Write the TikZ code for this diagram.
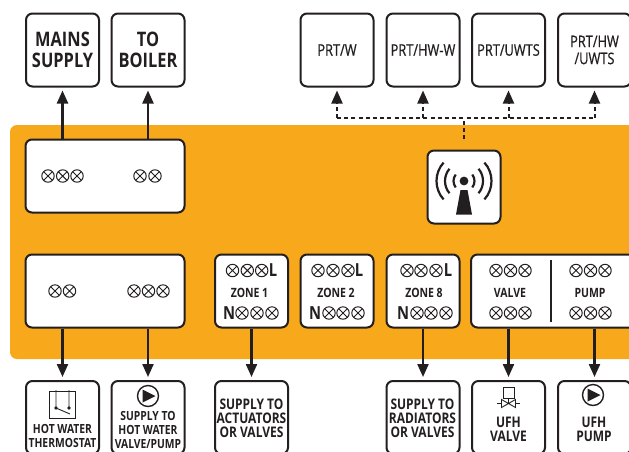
\documentclass[tikz,border=0pt]{standalone}
\usepackage{fontspec}
\setmainfont{Open Sans}[FakeStretch=0.82]
\newfontfamily\prtfont{Open Sans}[FakeStretch=0.8,FakeBold=0.6]
\usetikzlibrary{arrows.meta}
\definecolor{ink}{HTML}{231F20}
\definecolor{amber}{HTML}{F7A81B}
\tikzset{
  x=1pt,y=-1pt,
  boxn/.style={draw=ink,line width=2pt,fill=white,rounded corners=6.5pt,minimum width=73pt,minimum height=73pt,inner sep=0pt,align=center,text=ink},
  wide/.style={boxn,minimum width=159pt},
  lab/.style={text=ink,inner sep=0pt,align=center,font=\bfseries\fontsize{12.6}{14}\selectfont},
  labb/.style={text=ink,inner sep=0pt,align=center,font=\bfseries\fontsize{14.6}{14.2}\selectfont},
  big/.style={font=\bfseries\fontsize{20}{21}\selectfont},
  prt/.style={font=\prtfont\fontsize{16}{17}\selectfont},
  zl/.style={text=ink,inner sep=0pt,font=\bfseries\fontsize{12.8}{13}\selectfont},
  ln/.style={text=ink,inner sep=0pt,font=\bfseries\fontsize{18}{18}\selectfont},
  link/.style={draw=ink,line width=2.2pt,-{Triangle[width=11pt,length=13pt]},shorten >=3pt},
  dlink/.style={draw=ink,line width=2pt,dash pattern=on 4pt off 3.2pt},
  darrow/.style={dlink,-{Triangle[width=11pt,length=13pt]},shorten >=3pt},
  sym/.style={draw=ink,line width=1pt},
}
\newcommand{\xc}[2]{\draw[sym] (#1,#2) circle (6.2) ({#1-4.4},{#2-4.4}) -- ({#1+4.4},{#2+4.4}) ({#1-4.4},{#2+4.4}) -- ({#1+4.4},{#2-4.4});}
\newcommand{\pumpicon}[2]{\draw[draw=ink,line width=1.4pt] (#1,#2) circle (10.5);\fill[ink] ({#1-5.5},{#2-6.5}) -- ({#1+7.5},#2) -- ({#1-5.5},{#2+6.5}) -- cycle;}
\begin{document}
\begin{tikzpicture}
\useasboundingbox (0,0) rectangle (629,451);
\clip (0,0) rectangle (629,451);
\fill[white] (0,0) rectangle (629,451);
\fill[amber,rounded corners=7pt] (10,125) rectangle (660,359);

% upper row
\node[boxn,big] (mains) at (62.5,50) {MAINS\\SUPPLY};
\node[boxn,big] (boiler) at (148,50) {TO\\BOILER};
\node[boxn,prt] (prtw) at (337,50) {PRT/W};
\node[boxn,prt] (prthw) at (423,50) {PRT/HW-W};
\node[boxn,prt] (prtu) at (508.5,50) {PRT/UWTS};
\node[boxn,prt] (prthu) at (594.5,50) {PRT/HW\\/UWTS};

% control boxes
\node[wide] (upper) at (105,176) {};
\node[boxn] (wifi) at (464,187) {};
\node[wide] (lower) at (105,291) {};
\node[boxn] (z1) at (251.5,291) {};
\node[boxn] (z2) at (337,291) {};
\node[boxn] (z8) at (423,291) {};
\node[boxn,minimum width=170pt] (vp) at (556,291) {};

% bottom row
\node[boxn] (hw) at (62.5,417.5) {};
\node[boxn] (hv) at (148,417.5) {};
\node[boxn] (act) at (251.5,417.5) {};
\node[boxn] (rad) at (423,417.5) {};
\node[boxn] (ufv) at (508.5,417.5) {};
\node[boxn] (ufp) at (594.5,417.5) {};

% connectors
\draw[link] (mains.south |- upper.north) -- (mains.south);
\draw[link] (boiler.south |- upper.north) -- (boiler.south);
\draw[link] (lower.south -| hw.north) -- (hw.north);
\draw[link] (lower.south -| hv.north) -- (hv.north);
\draw[link] (z1.south) -- (act.north);
\draw[link] (z8.south) -- (rad.north);
\draw[link] (vp.south -| ufv.north) -- (ufv.north);
\draw[link] (vp.south -| ufp.north) -- (ufp.north);

\coordinate (hub) at (464,118);
\coordinate (stub) at (464,139);
\coordinate (ja) at (prtw.south |- hub);
\coordinate (jb) at (prthw.south |- hub);
\coordinate (jc) at (prtu.south |- hub);
\coordinate (jd) at (prthu.south |- hub);
\draw[dlink] (stub) -- (hub);
\draw[dlink] (ja) -- (jd);
\draw[darrow] (ja) -- (prtw.south);
\draw[darrow] (jb) -- (prthw.south);
\draw[darrow] (jc) -- (prtu.south);
\draw[darrow] (jd) -- (prthu.south);

% wireless icon
\fill[ink] (464,181) circle (4.4);
\fill[ink] (460.5,190) -- (467.5,190) -- (472,214.5) -- (456,214.5) -- cycle;
\foreach \r/\a in {10.5/38,19/40,27.5/42}{
  \draw[ink,line width=2.2pt] (464,181) ++(180-\a:\r) arc[start angle=180-\a,end angle=180+\a,radius=\r];
  \draw[ink,line width=2.2pt] (464,181) ++(\a:\r) arc[start angle=\a,end angle=-\a,radius=\r];
}

% terminals
\foreach \x in {48,62.7,77,140,155}{\xc{\x}{176}}
\foreach \x in {55,69.5,134,148.5,163}{\xc{\x}{291}}
\foreach \x in {232.5,247.3,261.7,318,333,348,407,421,436,496,510.5,525,576,590.5,605}{\xc{\x}{270.5}}
\foreach \x in {242,257,272,329,343,358,417,431,446,496,510.5,525,576,590.5,605}{\xc{\x}{313}}
\node[ln] (la) at (273,270.5) {L};
\node[ln] (lb) at (359,270.5) {L};
\node[ln] (lc) at (448,270.5) {L};
\node[ln] (na) at (229,313) {N};
\node[ln] (nb) at (315,313) {N};
\node[ln] (nc) at (403,313) {N};
\node[zl] (ta) at (249.5,292.5) {ZONE 1};
\node[zl] (tb) at (336,292.5) {ZONE 2};
\node[zl] (tc) at (424,292.5) {ZONE 8};
\node[zl] (tv) at (510,292.5) {VALVE};
\node[zl] (tp) at (590,292.5) {PUMP};
\draw[ink,line width=2pt] (551,260) -- (551,322);

% bottom labels
\node[lab] (t1) at (62.5,436) {HOT WATER\\THERMOSTAT};
\node[lab] (t2) at (148,430) {SUPPLY TO\\HOT WATER\\VALVE/PUMP};
\node[labb] (t3) at (251.5,418) {SUPPLY TO\\ACTUATORS\\OR VALVES};
\node[labb] (t4) at (422.5,418) {SUPPLY TO\\RADIATORS\\OR VALVES};
\node[labb] (t5) at (508.5,429) {UFH\\VALVE};
\node[labb] (t6) at (594,429) {UFH\\PUMP};

% thermostat icon
\draw[ink,line width=.9pt] (49.5,391.5) rectangle (75.5,418.5);
\draw[ink,line width=.9pt] (56,390) -- (56,408) (69,390) -- (69,408) (56,408) -- (70,414);
\fill[ink] (56,408) circle (1.9) (69,408) circle (1.9);

% pumps
\pumpicon{148}{396}
\pumpicon{593}{395}

% valve icon
\draw[ink,line width=.9pt] (503,387.5) rectangle (514,398.5);
\draw[ink,line width=.9pt] (508.5,398.5) -- (508.5,403.5);
\draw[ink,line width=.9pt] (501.5,399.5) -- (515.5,407.5) -- (515.5,399.5) -- (501.5,407.5) -- cycle;
\draw[ink,line width=.9pt] (497,403.5) -- (501.5,403.5) (515.5,403.5) -- (520,403.5) (501.5,400) -- (501.5,407) (515.5,400) -- (515.5,407);
\end{tikzpicture}
\end{document}
